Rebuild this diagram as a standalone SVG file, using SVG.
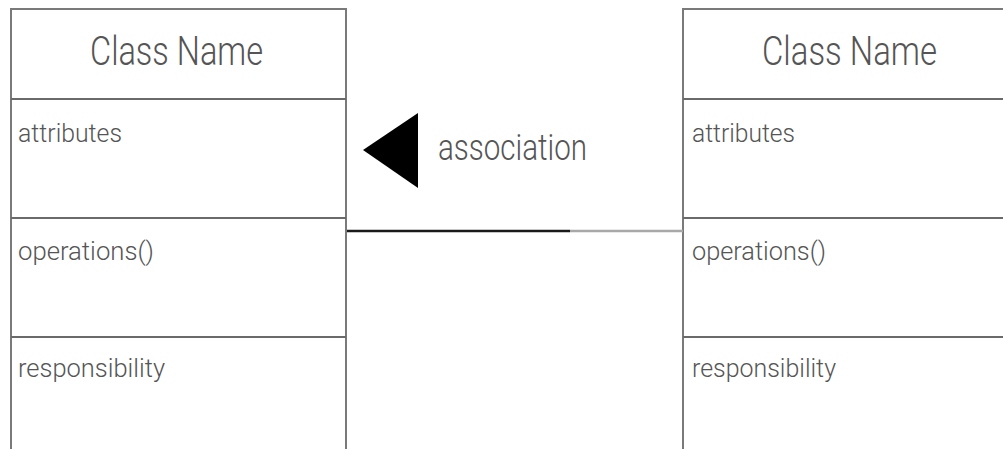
<svg xmlns="http://www.w3.org/2000/svg" width="1003" height="449" viewBox="0 0 1003 449">
<style>
.box{fill:#fff;stroke:#7a7a7a;stroke-width:2}
.div{stroke:#6a6a6a;stroke-width:2}
.t{font-family:Roboto,"Liberation Sans",sans-serif;fill:#555;font-weight:300}
.title{font-size:40px}
.lbl{font-size:26px}
</style>
<rect width="1003" height="449" fill="#fff"/>
<g id="class-left">
<rect class="box" x="11" y="9" width="335" height="460"/>
<line class="div" x1="11" y1="99" x2="346" y2="99"/>
<line class="div" x1="11" y1="218" x2="346" y2="218"/>
<line class="div" x1="11" y1="337" x2="346" y2="337"/>
<text class="t title" x="90" y="65" textLength="173" lengthAdjust="spacingAndGlyphs">Class Name</text>
<text class="t lbl" x="18" y="142" textLength="104" lengthAdjust="spacingAndGlyphs">attributes</text>
<text class="t lbl" x="18" y="260" textLength="136" lengthAdjust="spacingAndGlyphs">operations()</text>
<text class="t lbl" x="18" y="377" textLength="147" lengthAdjust="spacingAndGlyphs">responsibility</text>
</g>
<g id="class-right">
<rect class="box" x="683" y="9" width="340" height="460"/>
<line class="div" x1="683" y1="99" x2="1003" y2="99"/>
<line class="div" x1="683" y1="218" x2="1003" y2="218"/>
<line class="div" x1="683" y1="337" x2="1003" y2="337"/>
<text class="t title" x="762" y="65" textLength="175" lengthAdjust="spacingAndGlyphs">Class Name</text>
<text class="t lbl" x="692" y="142" textLength="103" lengthAdjust="spacingAndGlyphs">attributes</text>
<text class="t lbl" x="692" y="260" textLength="134" lengthAdjust="spacingAndGlyphs">operations()</text>
<text class="t lbl" x="692" y="377" textLength="144" lengthAdjust="spacingAndGlyphs">responsibility</text>
</g>
<g id="connectors">
<line x1="347" y1="231" x2="570" y2="231" stroke="#1a1a1a" stroke-width="2.5"/>
<line x1="570" y1="231" x2="683" y2="231" stroke="#a8a8a8" stroke-width="2.5"/>
<polygon points="363,150 418,113 418,188" fill="#000"/>
<text class="t" x="438" y="160" font-size="37" textLength="149" lengthAdjust="spacingAndGlyphs">association</text>
</g>
</svg>
